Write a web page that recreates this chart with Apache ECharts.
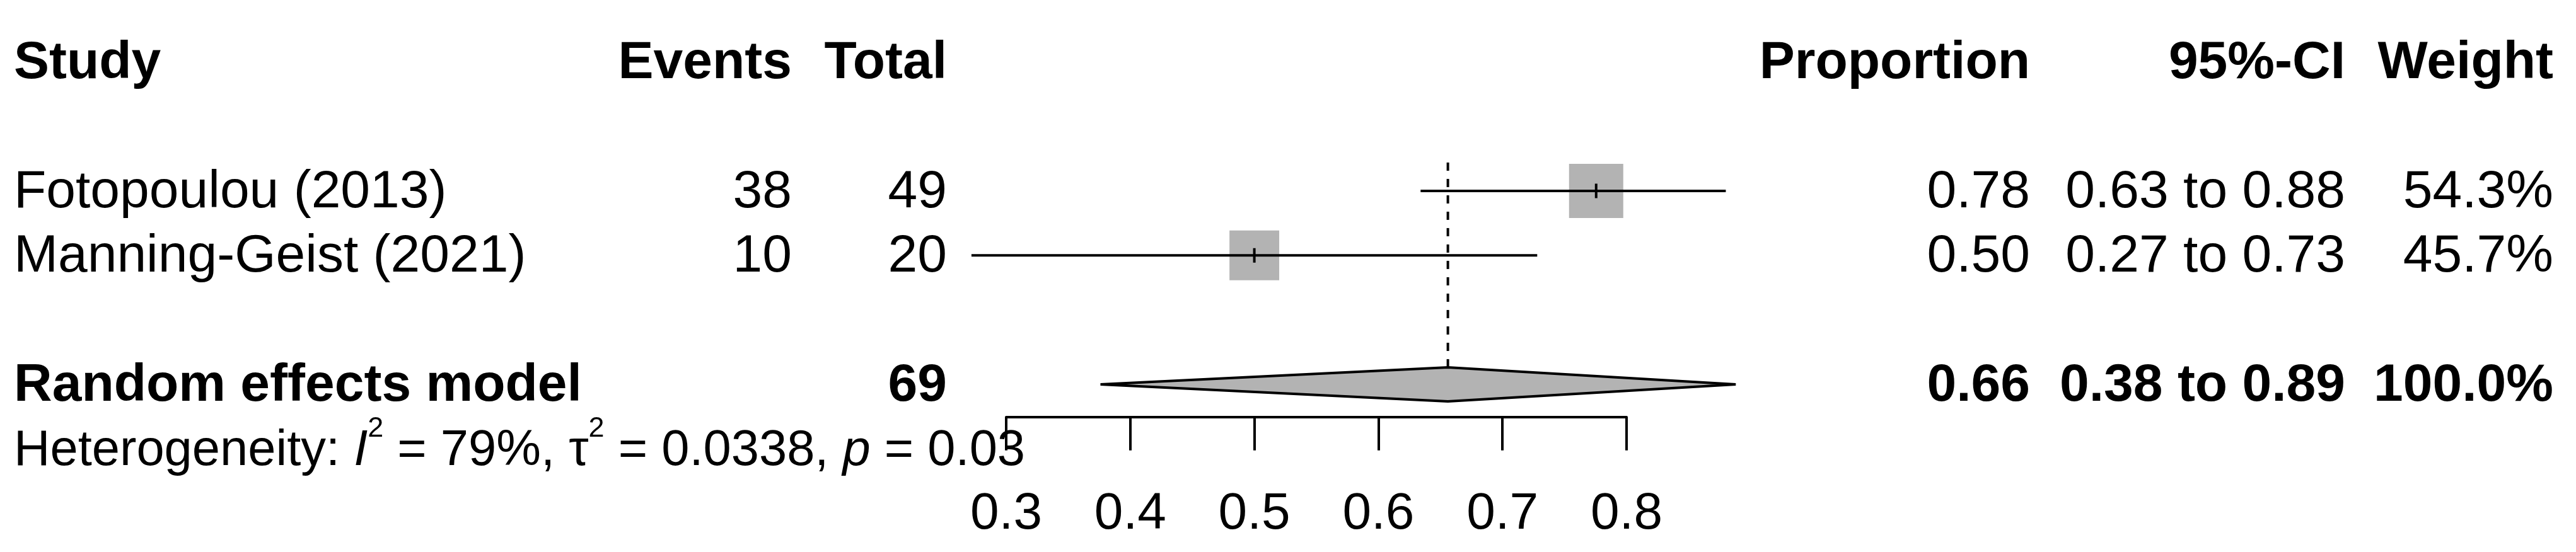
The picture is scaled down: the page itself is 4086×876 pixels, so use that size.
<!DOCTYPE html>
<html>
<head>
<meta charset="utf-8">
<script src="https://cdn.jsdelivr.net/npm/echarts@6/dist/echarts.min.js"></script>
<style>
  html, body { margin: 0; padding: 0; background: #fff; }
  #forest { width: 4086px; height: 876px; }
</style>
</head>
<body>
<div id="forest"></div>
<script>
// datos de los estudios
const studies = ['Fotopoulou (2013)', 'Manning-Geist (2021)'];
const events = [38, 10];
const totals = [49, 20];
const proportions = [0.7755, 0.50];
const ciLower = [0.634, 0.272];
const ciUpper = [0.880, 0.728];
const weights = [54.3, 45.7];

// modelo de efectos aleatorios
const pooledLabel = 'Random effects model';
const pooledTotal = 69;
const pooledEst = 0.656;
const pooledLower = 0.376;
const pooledUpper = 0.888;
const pooledWeight = 100.0;

// heterogeneidad
const hetI2 = 79;
const hetTau2 = 0.0338;
const hetP = 0.03;

const headers = ['Study', 'Events', 'Total', 'Proportion', '95%-CI', 'Weight'];
const ticks = [0.3, 0.4, 0.5, 0.6, 0.7, 0.8];

// layout (filas en unidades del eje y, columnas en pixeles)
const studyRows = [2, 3];
const headerRow = 0;
const pooledRow = 5;
const hetRow = 6.04;
const textShift = 3;
const columns = [
  { x: 22, align: 'left' },
  { x: 1256, align: 'right' },
  { x: 1502, align: 'right' },
  { x: 3220, align: 'right' },
  { x: 3720, align: 'right' },
  { x: 4050, align: 'right' }
];
const FONT = 'Liberation Sans, Arial, sans-serif';
const GRAY = '#b3b3b3';

const fmt2 = v => v.toFixed(2);

// filas de la tabla
const tableRows = [
  { row: headerRow, bold: true, cells: headers },
  ...studies.map((s, i) => ({
    row: studyRows[i], bold: false,
    cells: [s, String(events[i]), String(totals[i]), fmt2(proportions[i]),
      `${fmt2(ciLower[i])} to ${fmt2(ciUpper[i])}`, `${weights[i].toFixed(1)}%`]
  })),
  {
    row: pooledRow, bold: true,
    cells: [pooledLabel, '', String(pooledTotal), fmt2(pooledEst),
      `${fmt2(pooledLower)} to ${fmt2(pooledUpper)}`, `${pooledWeight.toFixed(1)}%`]
  }
];

const maxWeight = Math.max(...weights);

const chart = echarts.init(document.getElementById('forest'));

const option = {
  animation: false,
  backgroundColor: '#fff',
  grid: { left: 1596, right: 1506, top: 98.3, bottom: 214.3 },
  xAxis: {
    type: 'value',
    min: ticks[0],
    max: ticks[ticks.length - 1],
    interval: 0.1,
    splitLine: { show: false },
    axisLine: { show: true, onZero: false, lineStyle: { color: '#000', width: 4 } },
    axisTick: { show: true, length: 53, lineStyle: { color: '#000', width: 4 } },
    axisLabel: {
      fontSize: 82, fontFamily: FONT, color: '#000', margin: 114,
      formatter: v => v.toFixed(1)
    }
  },
  yAxis: { type: 'value', min: 0, max: 5.506, inverse: true, show: false },
  series: [
    // linea punteada del efecto combinado
    {
      type: 'custom',
      clip: false,
      data: [[pooledEst, pooledRow]],
      renderItem: (params, api) => {
        const top = api.coord([api.value(0), 1.56]);
        const bottom = api.coord([api.value(0), api.value(1)]);
        return {
          type: 'line',
          shape: { x1: top[0], y1: top[1], x2: bottom[0], y2: bottom[1] - 27 },
          style: { stroke: '#000', lineWidth: 4, lineDash: [13, 13] }
        };
      }
    },
    // estudios: cuadrado + intervalo
    {
      type: 'custom',
      clip: false,
      data: studies.map((s, i) => [proportions[i], ciLower[i], ciUpper[i], studyRows[i], weights[i]]),
      renderItem: (params, api) => {
        const c = api.coord([api.value(0), api.value(3)]);
        const l = api.coord([api.value(1), api.value(3)]);
        const r = api.coord([api.value(2), api.value(3)]);
        const size = 86 * Math.sqrt(api.value(4) / maxWeight);
        return {
          type: 'group',
          children: [
            {
              type: 'rect',
              shape: { x: c[0] - size / 2, y: c[1] - size / 2, width: size, height: size },
              style: { fill: GRAY }
            },
            {
              type: 'line',
              shape: { x1: l[0], y1: l[1], x2: r[0], y2: r[1] },
              style: { stroke: '#000', lineWidth: 4 }
            },
            {
              type: 'line',
              shape: { x1: c[0], y1: c[1] - 11.5, x2: c[0], y2: c[1] + 11.5 },
              style: { stroke: '#000', lineWidth: 4 }
            }
          ]
        };
      }
    },
    // diamante
    {
      type: 'custom',
      clip: false,
      data: [[pooledEst, pooledLower, pooledUpper, pooledRow]],
      renderItem: (params, api) => {
        const c = api.coord([api.value(0), api.value(3)]);
        const l = api.coord([api.value(1), api.value(3)]);
        const r = api.coord([api.value(2), api.value(3)]);
        return {
          type: 'polygon',
          shape: { points: [[l[0], l[1]], [c[0], c[1] - 27], [r[0], r[1]], [c[0], c[1] + 27]] },
          style: { fill: GRAY, stroke: '#000', lineWidth: 4, lineJoin: 'miter' }
        };
      }
    },
    // tabla de textos
    {
      type: 'custom',
      clip: false,
      silent: true,
      data: tableRows.map((t, i) => [0.3, t.row, i]),
      renderItem: (params, api) => {
        const t = tableRows[api.value(2)];
        const y = api.coord([0.3, api.value(1)])[1] + textShift;
        return {
          type: 'group',
          children: t.cells.map((txt, k) => ({
            type: 'text',
            x: columns[k].x,
            y: y,
            style: {
              text: txt,
              fill: '#000',
              fontSize: 84,
              fontFamily: FONT,
              fontWeight: t.bold ? 'bold' : 'normal',
              align: columns[k].align,
              verticalAlign: 'middle'
            }
          }))
        };
      }
    },
    // heterogeneidad
    {
      type: 'custom',
      clip: false,
      silent: true,
      data: [[0.3, hetRow]],
      renderItem: (params, api) => {
        const y = api.coord([0.3, api.value(1)])[1];
        return {
          type: 'text',
          x: columns[0].x,
          y: y,
          style: {
            text: `{n|Heterogeneity: }{i|I}{s|2}{n| = ${hetI2}%, τ}{s|2}{n| = ${hetTau2}, }{i|p}{n| = ${hetP}}`,
            align: 'left',
            verticalAlign: 'middle',
            fill: '#000',
            rich: {
              n: { fontSize: 79.5, fontFamily: FONT, lineHeight: 116, fill: '#000' },
              i: { fontSize: 79.5, fontFamily: FONT, fontStyle: 'italic', lineHeight: 116, fill: '#000' },
              s: { fontSize: 45, fontFamily: FONT, lineHeight: 46, verticalAlign: 'top', fill: '#000' }
            }
          }
        };
      }
    }
  ]
};

chart.setOption(option);
</script>
</body>
</html>
